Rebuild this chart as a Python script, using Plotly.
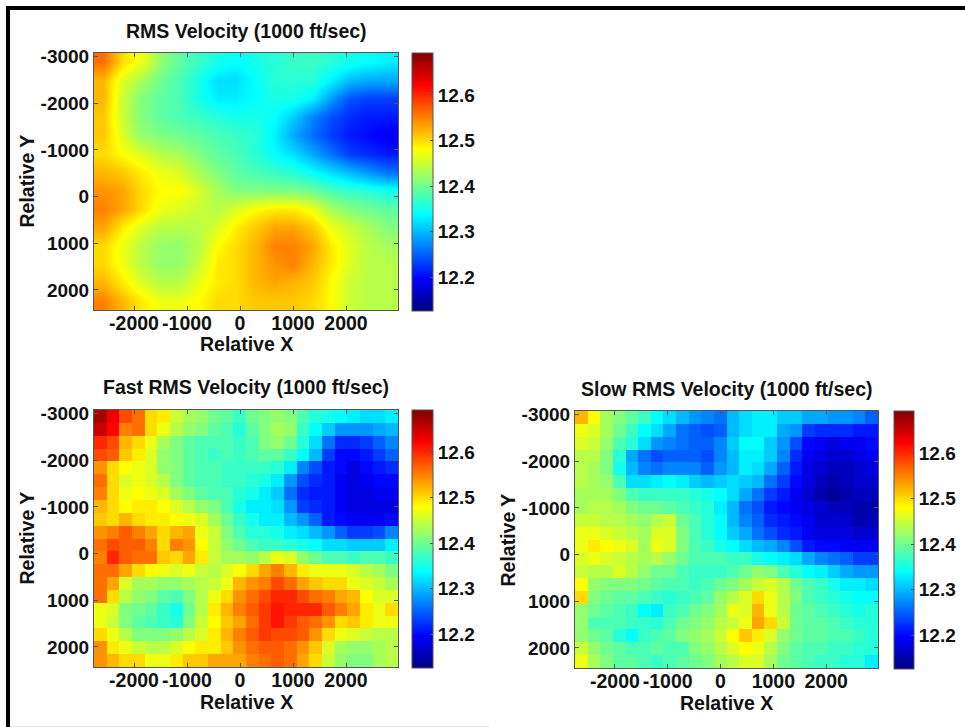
import plotly.graph_objects as go

W, H = 965, 727

x_ticks = [-2000, -1000, 0, 1000, 2000]
y_ticks = [-3000, -2000, -1000, 0, 1000, 2000]
cbar_ticks = [12.2, 12.3, 12.4, 12.5, 12.6]
x_range = [-2755, 2981]
y_range = [2429, -3078]
z_min, z_max = 12.126, 12.692

rms = [
[12.56,12.50,12.47,12.42,12.39,12.37,12.35,12.34,12.35,12.36,12.37,12.37,12.36,12.35,12.34,12.33],
[12.52,12.46,12.43,12.40,12.38,12.35,12.32,12.32,12.34,12.36,12.36,12.36,12.33,12.30,12.29,12.29],
[12.52,12.45,12.41,12.39,12.38,12.35,12.33,12.33,12.34,12.35,12.35,12.33,12.28,12.24,12.23,12.23],
[12.51,12.45,12.41,12.39,12.38,12.37,12.36,12.35,12.35,12.34,12.31,12.27,12.24,12.22,12.21,12.21],
[12.51,12.46,12.42,12.41,12.40,12.39,12.38,12.37,12.36,12.33,12.29,12.26,12.23,12.21,12.20,12.19],
[12.50,12.48,12.46,12.44,12.43,12.41,12.39,12.38,12.36,12.34,12.32,12.29,12.26,12.23,12.22,12.21],
[12.52,12.51,12.49,12.47,12.46,12.43,12.41,12.39,12.38,12.37,12.36,12.34,12.32,12.30,12.28,12.26],
[12.54,12.53,12.50,12.48,12.48,12.46,12.43,12.41,12.41,12.41,12.41,12.40,12.38,12.37,12.36,12.35],
[12.55,12.53,12.50,12.47,12.46,12.45,12.44,12.46,12.48,12.49,12.49,12.47,12.43,12.41,12.40,12.39],
[12.53,12.49,12.46,12.44,12.44,12.44,12.46,12.49,12.51,12.53,12.53,12.51,12.47,12.45,12.43,12.41],
[12.50,12.47,12.44,12.42,12.42,12.44,12.48,12.50,12.52,12.55,12.55,12.53,12.49,12.46,12.44,12.43],
[12.50,12.47,12.44,12.42,12.42,12.45,12.49,12.50,12.52,12.54,12.55,12.52,12.49,12.46,12.44,12.44],
[12.52,12.49,12.46,12.44,12.44,12.47,12.49,12.50,12.52,12.53,12.52,12.51,12.48,12.45,12.44,12.44],
[12.55,12.52,12.49,12.47,12.47,12.48,12.50,12.50,12.51,12.51,12.51,12.50,12.48,12.45,12.44,12.44],
]

fast = [
[12.67,12.63,12.58,12.56,12.50,12.49,12.45,12.43,12.42,12.40,12.39,12.37,12.40,12.41,12.42,12.41,12.38,12.36,12.35,12.34,12.33,12.32,12.32,12.33],
[12.65,12.62,12.55,12.56,12.50,12.47,12.44,12.42,12.41,12.39,12.38,12.36,12.39,12.41,12.43,12.42,12.37,12.34,12.31,12.28,12.28,12.28,12.29,12.30],
[12.60,12.58,12.52,12.50,12.47,12.43,12.41,12.39,12.38,12.38,12.38,12.37,12.38,12.41,12.42,12.40,12.36,12.32,12.26,12.22,12.22,12.23,12.25,12.27],
[12.58,12.57,12.51,12.49,12.46,12.42,12.41,12.39,12.38,12.37,12.38,12.37,12.38,12.39,12.39,12.37,12.34,12.30,12.23,12.20,12.20,12.21,12.23,12.25],
[12.54,12.50,12.48,12.47,12.46,12.42,12.41,12.39,12.38,12.38,12.37,12.37,12.37,12.37,12.36,12.33,12.27,12.24,12.21,12.20,12.18,12.20,12.21,12.22],
[12.56,12.50,12.46,12.47,12.46,12.44,12.41,12.39,12.38,12.38,12.37,12.37,12.36,12.35,12.33,12.28,12.24,12.22,12.21,12.19,12.18,12.19,12.20,12.20],
[12.55,12.50,12.47,12.48,12.47,12.46,12.43,12.41,12.39,12.38,12.38,12.36,12.35,12.33,12.31,12.26,12.22,12.21,12.21,12.19,12.18,12.18,12.19,12.19],
[12.52,12.50,12.48,12.49,12.49,12.48,12.46,12.44,12.42,12.41,12.38,12.35,12.33,12.33,12.32,12.28,12.23,12.22,12.21,12.19,12.18,12.18,12.18,12.18],
[12.51,12.50,12.52,12.50,12.49,12.49,12.48,12.47,12.46,12.43,12.40,12.37,12.35,12.33,12.33,12.30,12.28,12.25,12.21,12.20,12.19,12.19,12.19,12.20],
[12.54,12.55,12.57,12.55,12.53,12.50,12.52,12.53,12.47,12.45,12.41,12.38,12.36,12.36,12.35,12.33,12.32,12.30,12.28,12.25,12.23,12.23,12.24,12.27],
[12.56,12.58,12.57,12.57,12.55,12.50,12.55,12.54,12.48,12.45,12.42,12.40,12.38,12.37,12.37,12.36,12.35,12.34,12.32,12.32,12.31,12.31,12.31,12.33],
[12.55,12.60,12.57,12.56,12.56,12.51,12.50,12.53,12.49,12.45,12.43,12.43,12.42,12.44,12.47,12.46,12.42,12.40,12.38,12.38,12.37,12.38,12.38,12.37],
[12.56,12.56,12.53,12.50,12.48,12.47,12.46,12.47,12.45,12.44,12.46,12.48,12.50,12.53,12.55,12.52,12.49,12.47,12.47,12.47,12.46,12.44,12.43,12.41],
[12.56,12.53,12.46,12.43,12.43,12.42,12.42,12.43,12.44,12.45,12.47,12.52,12.54,12.55,12.58,12.56,12.53,12.51,12.50,12.50,12.47,12.46,12.45,12.43],
[12.56,12.50,12.44,12.42,12.41,12.39,12.38,12.41,12.44,12.47,12.50,12.54,12.56,12.58,12.60,12.60,12.58,12.56,12.55,12.53,12.52,12.48,12.46,12.46],
[12.47,12.46,12.41,12.40,12.39,12.37,12.35,12.40,12.44,12.49,12.52,12.55,12.57,12.59,12.61,12.60,12.60,12.60,12.57,12.55,12.53,12.49,12.47,12.50],
[12.47,12.45,12.41,12.39,12.38,12.37,12.36,12.41,12.45,12.48,12.51,12.53,12.56,12.59,12.61,12.59,12.57,12.56,12.54,12.50,12.51,12.49,12.47,12.47],
[12.50,12.47,12.44,12.41,12.41,12.41,12.42,12.44,12.46,12.49,12.52,12.55,12.57,12.59,12.58,12.58,12.57,12.54,12.50,12.47,12.46,12.45,12.44,12.44],
[12.54,12.49,12.47,12.45,12.44,12.44,12.46,12.48,12.49,12.49,12.51,12.54,12.56,12.57,12.57,12.56,12.54,12.51,12.46,12.43,12.42,12.42,12.43,12.44],
[12.54,12.52,12.50,12.50,12.47,12.47,12.49,12.51,12.51,12.53,12.53,12.53,12.55,12.56,12.57,12.56,12.53,12.50,12.45,12.42,12.41,12.41,12.43,12.44],
]

slow = [
[12.52,12.48,12.43,12.41,12.39,12.37,12.34,12.32,12.30,12.28,12.27,12.26,12.30,12.32,12.33,12.33,12.31,12.31,12.29,12.29,12.28,12.28,12.27,12.25],
[12.47,12.46,12.43,12.40,12.37,12.34,12.32,12.29,12.26,12.25,12.24,12.25,12.30,12.32,12.33,12.33,12.29,12.28,12.23,12.22,12.22,12.22,12.21,12.21],
[12.46,12.45,12.42,12.38,12.36,12.32,12.28,12.27,12.26,12.25,12.25,12.27,12.31,12.34,12.34,12.31,12.28,12.24,12.20,12.19,12.18,12.19,12.19,12.20],
[12.44,12.44,12.41,12.36,12.29,12.26,12.24,12.25,12.25,12.25,12.24,12.27,12.30,12.33,12.33,12.31,12.27,12.22,12.19,12.18,12.17,12.17,12.18,12.19],
[12.44,12.43,12.41,12.35,12.30,12.27,12.26,12.27,12.27,12.27,12.25,12.28,12.30,12.33,12.32,12.29,12.25,12.21,12.18,12.17,12.16,12.16,12.17,12.18],
[12.44,12.43,12.42,12.38,12.32,12.32,12.33,12.34,12.33,12.31,12.30,12.31,12.32,12.31,12.30,12.26,12.23,12.20,12.18,12.16,12.15,12.16,12.17,12.17],
[12.43,12.43,12.43,12.41,12.38,12.37,12.37,12.37,12.37,12.36,12.35,12.34,12.32,12.29,12.26,12.23,12.21,12.19,12.17,12.15,12.14,12.15,12.16,12.16],
[12.43,12.44,12.44,12.43,12.41,12.40,12.40,12.39,12.38,12.37,12.36,12.33,12.30,12.26,12.24,12.21,12.20,12.19,12.18,12.17,12.16,12.16,12.15,12.15],
[12.45,12.45,12.44,12.44,12.43,12.42,12.44,12.45,12.40,12.38,12.36,12.34,12.30,12.27,12.25,12.22,12.21,12.20,12.19,12.17,12.17,12.17,12.15,12.16],
[12.47,12.47,12.46,12.45,12.44,12.43,12.46,12.46,12.41,12.38,12.36,12.34,12.31,12.29,12.26,12.24,12.22,12.21,12.19,12.18,12.18,12.18,12.17,12.17],
[12.47,12.49,12.48,12.47,12.46,12.43,12.47,12.46,12.41,12.38,12.37,12.35,12.34,12.32,12.30,12.29,12.27,12.24,12.21,12.20,12.20,12.19,12.19,12.19],
[12.46,12.47,12.46,12.45,12.44,12.43,12.44,12.42,12.40,12.38,12.38,12.38,12.37,12.37,12.35,12.34,12.33,12.32,12.29,12.27,12.26,12.25,12.23,12.23],
[12.45,12.44,12.44,12.46,12.44,12.42,12.40,12.40,12.38,12.37,12.37,12.37,12.38,12.40,12.42,12.41,12.38,12.36,12.34,12.33,12.31,12.29,12.28,12.28],
[12.48,12.42,12.41,12.41,12.41,12.40,12.39,12.38,12.38,12.37,12.38,12.40,12.41,12.43,12.45,12.46,12.44,12.40,12.38,12.37,12.35,12.33,12.33,12.32],
[12.50,12.41,12.40,12.39,12.39,12.38,12.37,12.36,12.37,12.38,12.39,12.42,12.44,12.46,12.50,12.47,12.44,12.41,12.38,12.37,12.36,12.35,12.34,12.34],
[12.42,12.40,12.39,12.38,12.37,12.34,12.33,12.37,12.38,12.40,12.41,12.43,12.47,12.46,12.52,12.47,12.44,12.40,12.39,12.38,12.37,12.36,12.35,12.36],
[12.42,12.38,12.38,12.38,12.37,12.37,12.36,12.38,12.40,12.41,12.42,12.44,12.45,12.47,12.53,12.50,12.45,12.40,12.39,12.39,12.38,12.37,12.36,12.36],
[12.42,12.40,12.39,12.36,12.34,12.37,12.38,12.39,12.41,12.42,12.43,12.45,12.48,12.51,12.49,12.46,12.42,12.40,12.39,12.39,12.38,12.38,12.37,12.36],
[12.45,12.42,12.40,12.39,12.38,12.38,12.39,12.38,12.38,12.41,12.42,12.44,12.46,12.48,12.47,12.44,12.41,12.39,12.38,12.38,12.37,12.37,12.36,12.36],
[12.47,12.43,12.41,12.39,12.39,12.38,12.37,12.38,12.39,12.40,12.41,12.43,12.44,12.46,12.46,12.43,12.40,12.39,12.38,12.37,12.37,12.36,12.36,12.33],
]

titles = ["RMS Velocity (1000 ft/sec)", "Fast RMS Velocity (1000 ft/sec)", "Slow RMS Velocity (1000 ft/sec)"]
grids = [rms, fast, slow]
smoothing = ["best", False, False]

jet = [[0, "#000080"], [0.125, "#0000ff"], [0.375, "#00ffff"], [0.625, "#ffff00"], [0.875, "#ff0000"], [1, "#800000"]]
FONT = "Liberation Sans"
DARK = "#111111"
AXC = "#555555"

# left, right, top, bottom, cb_left, cb_width, title_y, xlabel_y, ylabel_x
panels = [
    (94, 398, 53, 310, 412, 21, 31, 344, 26),
    (94, 398, 410, 667, 412, 21, 387, 702, 26),
    (575, 878, 411, 668, 894, 20, 389, 703, 507),
]

fig = go.Figure()
ann = []
for i, (grid, title, p, smooth) in enumerate(zip(grids, titles, panels, smoothing)):
    l, r, t, b, cbl, cbw, ty, xly, ylx = p
    nrow, ncol = len(grid), len(grid[0])
    dx = (x_range[1] - x_range[0]) / ncol
    dy = (y_range[1] - y_range[0]) / nrow
    sx = "" if i == 0 else str(i + 1)
    fig.add_trace(go.Heatmap(
        z=grid,
        x0=x_range[0] + dx / 2, dx=dx,
        y0=y_range[1] - dy / 2, dy=-dy,
        zmin=z_min, zmax=z_max,
        colorscale=jet, zsmooth=smooth,
        xaxis="x" + sx, yaxis="y" + sx,
        colorbar=dict(
            x=cbl / W, xanchor="left", xpad=0,
            y=1 - t / H, yanchor="top", ypad=0,
            len=b - t + 1, lenmode="pixels",
            thickness=cbw, thicknessmode="pixels",
            tickvals=cbar_ticks, ticktext=[f"{v:.1f}" for v in cbar_ticks],
            ticks="inside", ticklen=3, tickcolor=AXC,
            outlinecolor=AXC, outlinewidth=1,
            tickfont=dict(family=FONT, size=19, color=DARK, weight="bold"),
        ),
    ))
    common = dict(showgrid=False, zeroline=False, showline=True, linecolor=AXC, linewidth=1,
                  mirror="ticks", ticks="inside", ticklen=4, tickcolor=AXC)
    fig.layout["xaxis" + sx] = dict(domain=[l / W, r / W], range=x_range, tickvals=x_ticks,
                                    ticktext=[str(v) for v in x_ticks], anchor="y" + sx,
                                    ticklabelstandoff=-4,
                                    tickfont=dict(family=FONT, size=19.5, color=DARK, weight="bold"),
                                    **common)
    fig.layout["yaxis" + sx] = dict(domain=[1 - b / H, 1 - t / H], range=y_range, tickvals=y_ticks,
                                    ticktext=[str(v) for v in y_ticks], anchor="x" + sx,
                                    tickfont=dict(family=FONT, size=19, color=DARK, weight="bold"),
                                    **common)
    cx = (l + r) / 2
    for txt, ax, ay, rot in [(title, cx, ty, 0), ("Relative X", cx, xly, 0), ("Relative Y", ylx, (t + b) / 2, -90)]:
        ann.append(dict(text=f"<b>{txt}</b>", x=ax / W, y=1 - ay / H, xref="paper", yref="paper",
                        xanchor="center", yanchor="middle", showarrow=False, textangle=rot,
                        font=dict(family=FONT, size=19.5, color=DARK)))

frame = [
    dict(type="rect", xref="paper", yref="paper", x0=6 / W, x1=1, y0=1 - 10 / H, y1=1 - 6 / H,
         fillcolor="black", line_width=0),
    dict(type="rect", xref="paper", yref="paper", x0=6 / W, x1=10 / W, y0=0, y1=1 - 6 / H,
         fillcolor="black", line_width=0),
    dict(type="rect", xref="paper", yref="paper", x0=10 / W, x1=490 / W, y0=0, y1=1 / H,
         fillcolor="#e4e4e4", line_width=0),
]

fig.update_layout(width=W, height=H, autosize=False,
                  margin=dict(l=0, r=0, t=0, b=0, autoexpand=False),
                  paper_bgcolor="white", plot_bgcolor="white", showlegend=False,
                  annotations=ann, shapes=frame)
fig.write_html("out.html", config={"displayModeBar": False},
               post_script="document.body.style.margin='0';document.documentElement.style.overflow='hidden';")
